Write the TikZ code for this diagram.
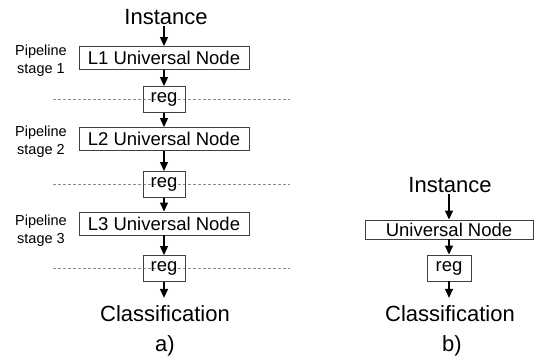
\documentclass[tikz,border=0pt]{standalone}
\usepackage{fontspec}
\setmainfont{Liberation Sans}
\usetikzlibrary{arrows.meta}
\begin{document}
\begin{tikzpicture}[x=1pt,y=-1pt,
 bigbox/.style={draw=black!75,line width=0.9pt,minimum width=170pt,minimum height=23pt,inner sep=0pt,font=\fontsize{18.5}{20}\selectfont},
 regbox/.style={draw=black!75,line width=0.9pt,minimum width=42pt,minimum height=26pt,inner sep=0pt,font=\fontsize{18.5}{20}\selectfont},
 title/.style={inner sep=0pt,anchor=base,font=\fontsize{22}{26}\selectfont},
 stagelbl/.style={inner sep=0pt,align=center,font=\fontsize{14.5}{18}\selectfont},
 arr/.style={-{Triangle[length=9pt,width=8pt]},line width=1.2pt},
 sep/.style={draw=black!45,dash pattern=on 3pt off 2pt,line width=0.7pt}]
\useasboundingbox (0,0) rectangle (537,356);
% separators
\coordinate (s1a) at (53,99);  \coordinate (s1b) at (290,99);
\coordinate (s2a) at (53,184); \coordinate (s2b) at (290,184);
\coordinate (s3a) at (53,268); \coordinate (s3b) at (290,268);
\draw[sep] (s1a) -- (s1b);
\draw[sep] (s2a) -- (s2b);
\draw[sep] (s3a) -- (s3b);
% left diagram
\node[title] (inst) at (166,24) {Instance};
\node[bigbox] (l1) at (164,58) {L1 Universal Node};
\node[regbox] (r1) at (164,99.5) {reg};
\node[bigbox] (l2) at (164,139) {L2 Universal Node};
\node[regbox] (r2) at (164,184.5) {reg};
\node[bigbox] (l3) at (164,223.5) {L3 Universal Node};
\node[regbox] (r3) at (164,268.5) {reg};
\node[title] (cls) at (165,321) {Classification};
\node[title] (la) at (165,351) {a)};
\node[stagelbl] (p1) at (41,61) {Pipeline\\stage 1};
\node[stagelbl] (p2) at (41,142) {Pipeline\\stage 2};
\node[stagelbl] (p3) at (41,231) {Pipeline\\stage 3};
\draw[arr] ([yshift=-2pt]inst.south -| l1.north) -- (l1.north);
\draw[arr] (l1) -- (r1);
\draw[arr] (r1) -- (l2);
\draw[arr] (l2) -- (r2);
\draw[arr] (r2) -- (l3);
\draw[arr] (l3) -- (r3);
\draw[arr] (r3.south) -- ([yshift=7pt]cls.north -| r3.south);
% right diagram
\node[title] (inst2) at (450,192) {Instance};
\node[bigbox,minimum width=168pt,minimum height=19pt] (un) at (449,229.5) {Universal Node};
\node[regbox,minimum width=44pt] (r4) at (449,268) {reg};
\node[title] (cls2) at (450,321) {Classification};
\node[title] (lb) at (452,351) {b)};
\draw[arr] ([yshift=-2pt]inst2.south -| un.north) -- (un.north);
\draw[arr] (un) -- (r4);
\draw[arr] (r4.south) -- ([yshift=7pt]cls2.north -| r4.south);
\end{tikzpicture}
\end{document}
